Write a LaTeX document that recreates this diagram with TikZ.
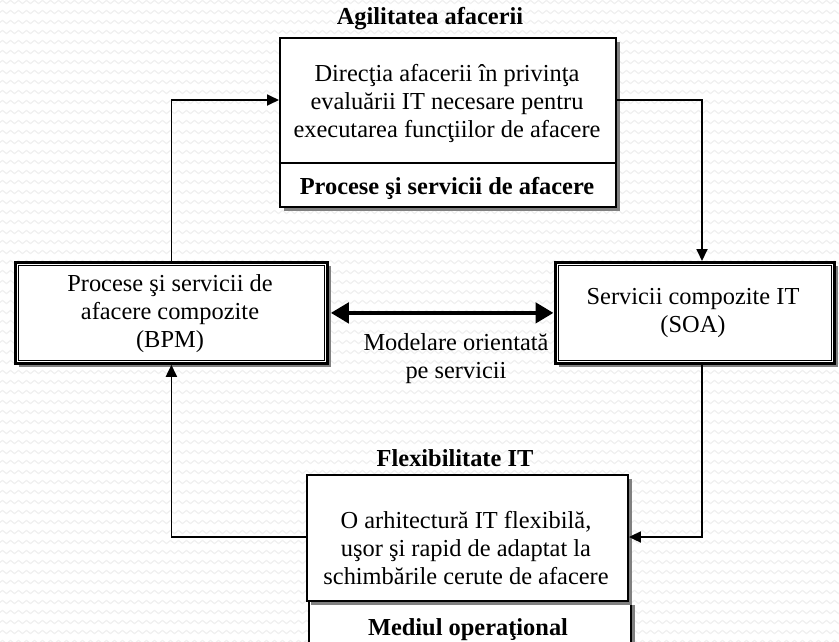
\documentclass[tikz,border=0pt]{standalone}
\usepackage{fontspec}
\setmainfont{Liberation Serif}
\usetikzlibrary{arrows.meta,decorations.pathmorphing,shadows,calc}

\begin{document}
\begin{tikzpicture}[x=1pt,y=-1pt,
  txt/.style={align=center,inner sep=0pt,font=\fontsize{24.4}{28}\selectfont},
  btxt/.style={align=center,inner sep=0pt,font=\fontsize{24.4}{28}\selectfont\bfseries},
  panel/.style={draw,line width=1.9pt,fill=white,inner sep=0pt,
    drop shadow={shadow xshift=4pt,shadow yshift=-4pt,fill=black!50,opacity=1}},
  dblpanel/.style={draw,line width=2.8pt,fill=white,inner sep=0pt,
    drop shadow={shadow xshift=4pt,shadow yshift=-4pt,fill=black!50,opacity=1}},
  innerline/.style={draw,line width=1.4pt},
  conn/.style={line width=1.8pt,-{Triangle[length=12pt,width=11pt]}},
  twoway/.style={line width=4.5pt,{Triangle[length=18pt,width=20pt]}-{Triangle[length=18pt,width=20pt]}},
  wave/.style={black!6,line width=1.2pt,decorate,
    decoration={snake,segment length=8pt,amplitude=1.6pt}}
]
\useasboundingbox (0,0) rectangle (839,641);

% light wavy background texture
\foreach \r in {2,12,...,642}
  \draw[wave] (-8,\r) -- (848,\r);

% helper levels for the elbow connectors
\coordinate (lvlA) at (0,100);
\coordinate (lvlB) at (0,537);
\coordinate (divA) at (0,163);
\coordinate (colR) at (702,0);

% top panel: business agility
\node[btxt] (agiltitle) at (430,19) {Agilitatea afacerii};
\node[panel,minimum width=336pt,minimum height=169pt,anchor=north west] (agil) at (279,37) {};
\draw[line width=1.9pt] (agil.west |- divA) -- (agil.east |- divA);
\node[txt] (agiltext) at (447,104) {Direcţia afacerii în privinţa\\evaluării IT necesare pentru\\executarea funcţiilor de afacere};
\node[btxt] (agilfoot) at (447,188) {Procese şi servicii de afacere};

% left panel: composite business processes
\node[dblpanel,minimum width=312pt,minimum height=101pt,anchor=north west] (bpm) at (14,261) {};
\draw[innerline] ($(bpm.north west)+(4.5,4.5)$) rectangle ($(bpm.south east)+(-4.5,-4.5)$);
\node[txt] (bpmtext) at (170,314) {Procese şi servicii de\\afacere compozite\\(BPM)};

% right panel: composite IT services
\node[dblpanel,minimum width=279pt,minimum height=101pt,anchor=north west] (soa) at (554,261) {};
\draw[innerline] ($(soa.north west)+(4.5,4.5)$) rectangle ($(soa.south east)+(-4.5,-4.5)$);
\node[txt] (soatext) at (693,313) {Servicii compozite IT\\(SOA)};

% two-way link between the side panels
\draw[twoway,shorten <=2pt,shorten >=0.5pt] (bpm.east) -- (soa.west);
\node[txt] (modtext) at (456,359) {Modelare orientată\\pe servicii};

% bottom panel: IT flexibility
\node[btxt] (flextitle) at (455,458) {Flexibilitate IT};
\node[panel,minimum width=322pt,minimum height=60pt,anchor=north west] (oper) at (308,600) {};
\node[panel,minimum width=321pt,minimum height=126pt,anchor=north west] (flex) at (306,474) {};
\node[txt] (flextext) at (466,548) {O arhitectură IT flexibilă,\\uşor şi rapid de adaptat la\\schimbările cerute de afacere};
\node[btxt] (opertext) at (468,630) {Mediul operaţional};

% feedback loop
\draw[conn] (bpm.north) |- (agil.west |- lvlA);
\draw[conn] (agil.east |- lvlA) -| (colR |- soa.north);
\draw[conn] (colR |- soa.south) |- (flex.east |- lvlB);
\draw[conn] (flex.west |- lvlB) -| (bpm.south);
\end{tikzpicture}
\end{document}
